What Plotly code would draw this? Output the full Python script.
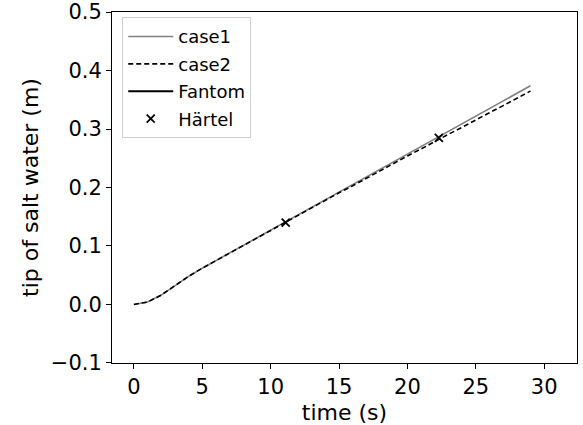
import plotly.graph_objects as go

time = list(range(0, 30))
case1 = [0.000, 0.004, 0.016, 0.032, 0.048, 0.062, 0.075, 0.088, 0.101, 0.114,
         0.127, 0.139, 0.152, 0.165, 0.178, 0.191, 0.204, 0.217, 0.230, 0.243,
         0.256, 0.269, 0.282, 0.295, 0.308, 0.321, 0.334, 0.347, 0.360, 0.374]
case2 = [0.000, 0.004, 0.016, 0.032, 0.048, 0.062, 0.075, 0.088, 0.101, 0.114,
         0.127, 0.139, 0.152, 0.165, 0.178, 0.191, 0.203, 0.216, 0.228, 0.241,
         0.254, 0.266, 0.279, 0.291, 0.303, 0.316, 0.328, 0.340, 0.352, 0.365]
fantom_t = [None]
fantom_y = [None]
haertel_t = [11.1, 22.3]
haertel_y = [0.140, 0.285]

fig = go.Figure()
fig.add_trace(go.Scatter(x=time, y=case1, mode="lines", name="case1", legendgroup="a",
                         line=dict(color="#808080", width=1.6)))
fig.add_trace(go.Scatter(x=time, y=case2, mode="lines", name="case2", legendgroup="b",
                         line=dict(color="black", width=1.6, dash="5px,3px")))
fig.add_trace(go.Scatter(x=fantom_t, y=fantom_y, mode="lines", name="Fantom", legendgroup="c",
                         line=dict(color="black", width=1.8)))
fig.add_trace(go.Scatter(x=haertel_t, y=haertel_y, mode="markers", name="Härtel", legendgroup="d",
                         marker=dict(symbol="x-thin", size=8, color="black",
                                     line=dict(color="black", width=1.8))))

axis_common = dict(showline=True, linecolor="black", linewidth=1, mirror=True,
                   ticks="outside", ticklen=5, tickcolor="black", showgrid=False,
                   zeroline=False, tickfont=dict(size=21, color="black"),
                   ticklabeloverflow="allow")

fig.update_layout(
    width=583, height=425,
    margin=dict(l=112, r=6, t=12, b=62, autoexpand=False),
    paper_bgcolor="white", plot_bgcolor="white",
    font=dict(family="DejaVu Sans", color="black"),
    xaxis=dict(range=[-1.6, 32.4], tick0=0, dtick=5, automargin=False,
               title=dict(text="time (s)", font=dict(size=22)),
               **axis_common),
    yaxis=dict(range=[-0.1002, 0.5002], tick0=0, dtick=0.1,
               tickformat=".1f", automargin=True,
               title=dict(text="tip of salt water (m)", font=dict(size=22), standoff=6),
               **axis_common),
    legend=dict(x=0.022, y=0.985, xanchor="left", yanchor="top",
                bgcolor="rgba(255,255,255,0.8)", bordercolor="#d0d0d0", borderwidth=1,
                font=dict(size=18), tracegroupgap=1, itemwidth=45),
    showlegend=True,
)

fig.write_html("out.html", config={"displayModeBar": False},
               post_script="document.body.style.margin='0';document.body.style.overflow='hidden';")
